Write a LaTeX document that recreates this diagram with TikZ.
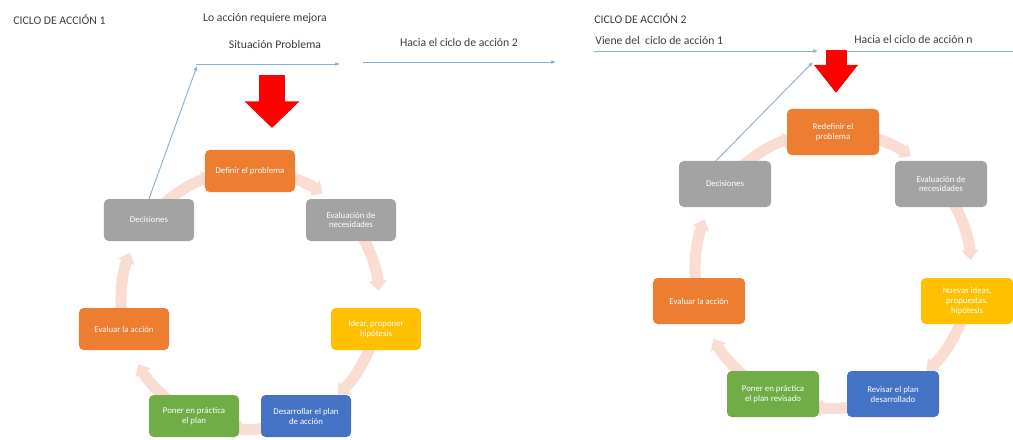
\documentclass[tikz,border=0pt]{standalone}
\usepackage{fontspec}
\setmainfont{Carlito}
\usetikzlibrary{arrows.meta,calc}

\definecolor{naranja}{RGB}{237,125,49}
\definecolor{gris}{RGB}{163,163,163}
\definecolor{amarillo}{RGB}{255,192,0}
\definecolor{azul}{RGB}{68,114,196}
\definecolor{verde}{RGB}{112,173,71}
\definecolor{rosa}{RGB}{250,221,210}
\definecolor{azulclaro}{RGB}{135,176,212}
\definecolor{texto}{RGB}{60,60,60}

\tikzset{
  paso/.style={rounded corners=4pt,fill=#1,text=white,align=center,
    minimum width=2.7cm,minimum height=1.26cm,inner sep=2pt,
    font=\fontsize{7.5}{8.5}\selectfont},
  pasob/.style={paso=#1,minimum width=2.76cm,minimum height=1.38cm},
  anillo/.style={rosa,line width=9.5pt,-{Triangle[width=0.52cm,length=0.3cm]}},
  vinculo/.style={azulclaro,line width=0.8pt,-{Latex[length=4pt,width=3.5pt]}},
  rotulo/.style={texto,font=\fontsize{10}{12}\selectfont,inner sep=1pt},
}

\begin{document}
\begin{tikzpicture}[x=0.03cm,y=0.03cm]
  \useasboundingbox (0,0) rectangle (1013,439);
  % anillos de los dos ciclos
  \foreach \cx/\cy/\r in {250/139/129,833/169/138}{
    \foreach \i in {0,...,6}{
      \pgfmathsetmacro\aini{90-\i*360/7-8}
      \pgfmathsetmacro\afin{90-(\i+1)*360/7+17}
      \draw[anillo] ($(\cx,\cy)+(\aini:\r)$) arc[start angle=\aini,end angle=\afin,radius=\r];
    }
  }

  % ciclo de accion 1
  \node[rotulo,anchor=west] (tit1) at (12,419) {CICLO DE ACCIÓN 1};
  \node[rotulo] (mejora) at (265,421) {Lo acción requiere mejora};
  \node[rotulo] (sitp) at (275,395) {Situación Problema};
  \node[rotulo] (hacia2) at (459,397) {Hacia el ciclo de acción 2};
  \node[paso=naranja] (def1) at (250,268) {Definir el problema};
  \node[paso=gris] (eval1) at (351,219) {Evaluación de\\necesidades};
  \node[paso=amarillo] (idear1) at (376,110) {Idear, proponer\\hipótesis};
  \node[paso=azul] (des1) at (306,23) {Desarrollar el plan\\de acción};
  \node[paso=verde] (pon1) at (194,23) {Poner en práctica\\el plan};
  \node[paso=naranja] (evac1) at (124,110) {Evaluar la acción};
  \node[paso=gris] (dec1) at (149,219) {Decisiones};
  \coordinate (sp1) at (196,375);
  \coordinate (sp2) at (340,375);
  \coordinate (ha1) at (363,377);
  \coordinate (ha2) at (556,377);
  \draw[vinculo] (dec1.north) -- ($(sp1)+(1,-2)$);
  \draw[vinculo] (sp1) -- (sp2);
  \draw[vinculo] (ha1) -- (ha2);
  % flecha roja
  \draw[red,line width=0.78cm,-{Triangle[width=1.6cm,length=0.8cm]}] (272,364) -- (272,311);

  % ciclo de accion 2
  \node[rotulo,anchor=west] (tit2) at (593,420) {CICLO DE ACCIÓN 2};
  \node[rotulo,anchor=west] (viene) at (594,399) {Viene del\ \ ciclo de acción 1};
  \node[rotulo,anchor=west] (hacian) at (853,400) {Hacia el ciclo de acción n};
  \node[pasob=naranja] (redef2) at (833,307) {Redefinir el\\problema};
  \node[pasob=gris] (eval2) at (941,255) {Evaluación de\\necesidades};
  \node[pasob=amarillo] (nuevas2) at (967,138) {Nuevas ideas,\\propuestas,\\hipótesis};
  \node[pasob=azul] (rev2) at (893,45) {Revisar el plan\\desarrollado};
  \node[pasob=verde] (pon2) at (773,45) {Poner en práctica\\el plan revisado};
  \node[pasob=naranja] (evac2) at (699,138) {Evaluar la acción};
  \node[pasob=gris] (dec2) at (725,255) {Decisiones};
  \coordinate (vi1) at (594,388);
  \coordinate (vi2) at (818,388);
  \coordinate (hn1) at (840,388);
  \coordinate (hn2) at (1013,388);
  \coordinate (dg2) at (813,377);
  \draw[vinculo] ($(dec2.north)+(-9,0)$) -- (dg2);
  \draw[vinculo] (vi1) -- (vi2);
  \draw[vinculo,-] (hn1) -- (hn2);
  % flecha roja
  \draw[red,line width=0.63cm,-{Triangle[width=1.26cm,length=0.84cm]}] (836,389) -- (836,346);
\end{tikzpicture}
\end{document}
